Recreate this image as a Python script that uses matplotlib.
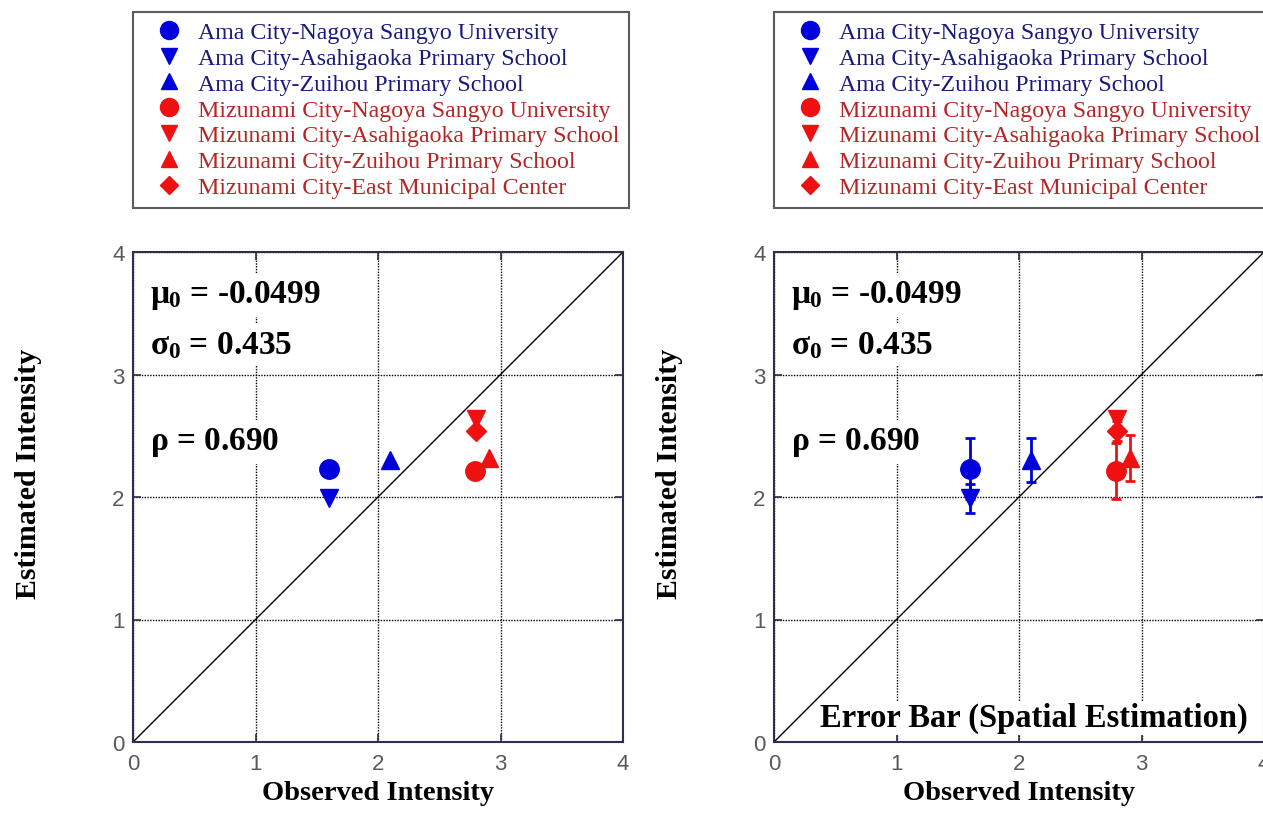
import numpy as np
import matplotlib
matplotlib.use("Agg")
import matplotlib.pyplot as plt
from matplotlib.lines import Line2D

plt.rcParams['mathtext.fontset'] = 'custom'
plt.rcParams['mathtext.rm'] = 'Liberation Serif:bold'
plt.rcParams['mathtext.it'] = 'Liberation Serif:bold'
plt.rcParams['mathtext.bf'] = 'Liberation Serif:bold'

# site names, observed / estimated intensity, error of spatial estimation
sites = ["Ama City-Nagoya Sangyo University",
         "Ama City-Asahigaoka Primary School",
         "Ama City-Zuihou Primary School",
         "Mizunami City-Nagoya Sangyo University",
         "Mizunami City-Asahigaoka Primary School",
         "Mizunami City-Zuihou Primary School",
         "Mizunami City-East Municipal Center"]
observed = [1.6, 1.6, 2.1, 2.79, 2.8, 2.91, 2.8]
estimated = [2.23, 1.99, 2.30, 2.21, 2.64, 2.32, 2.54]
est_error = [0.25, 0.12, 0.18, 0.23, 0.06, 0.19, 0.08]
markers = ['o', 'v', '^', 'o', 'v', '^', 'D']
sizes = [14, 13, 13, 14, 13, 13, 10]
city = ['Ama', 'Ama', 'Ama', 'Mizunami', 'Mizunami', 'Mizunami', 'Mizunami']

stats_text = [r"$\mu_0$ = -0.0499", r"$\sigma_0$ = 0.435", r"$\rho$ = 0.690"]
stats_y = [3.59, 3.17, 2.39]
ticks = [0, 1, 2, 3, 4]

mark_col = {'Ama': '#0000dd', 'Mizunami': '#ee1111'}
text_col = {'Ama': '#1a1a7a', 'Mizunami': '#b52525'}
spine_col = '#2e2e4e'

W, H = 1263, 829
fig = plt.figure(figsize=(W / 100, H / 100), dpi=100)


def draw_panel(left_px, with_errors):
    ax = fig.add_axes([left_px / W, 1 - 743 / H, 490 / W, 490 / H])
    ax.set_xlim(0, 4)
    ax.set_ylim(0, 4)
    ax.set_xticks(ticks)
    ax.set_yticks(ticks)
    ax.grid(True, color='black', linestyle=(0, (1, 1)), linewidth=1.0)
    ax.set_axisbelow(True)
    for s in ax.spines.values():
        s.set_color(spine_col)
        s.set_linewidth(1.5)
    ax.tick_params(direction='in', length=6, width=1.2, color=spine_col,
                   top=True, right=True, labelsize=16, labelcolor='#5a5a5a', pad=6)
    ax.tick_params(axis='x', pad=8)
    for lab in ax.get_xticklabels() + ax.get_yticklabels():
        lab.set_fontfamily('Liberation Sans')
    ax.plot([0, 4], [0, 4], color='black', linewidth=1.0, zorder=2)

    for i in range(len(sites)):
        c = mark_col[city[i]]
        if with_errors:
            ax.errorbar(observed[i], estimated[i], yerr=est_error[i], fmt=markers[i],
                        ms=sizes[i], color=c, ecolor=c, elinewidth=2, capsize=3.5,
                        capthick=2, zorder=4)
        else:
            ax.plot(observed[i], estimated[i], markers[i], ms=sizes[i], color=c, zorder=4)

    for t, y in zip(stats_text, stats_y):
        ax.text(0.14, y, t, fontsize=24, fontfamily='Liberation Serif',
                fontweight='bold', va='baseline', ha='left', zorder=3,
                bbox=dict(facecolor='white', edgecolor='none', pad=4))

    ax.set_xlabel("Observed Intensity", fontsize=20.5, fontfamily='Liberation Serif',
                  fontweight='bold')
    ax.set_ylabel("Estimated Intensity", fontsize=21.5, fontfamily='Liberation Serif',
                  fontweight='bold')
    ax.xaxis.set_label_coords(0.5, -0.077)
    ax.yaxis.set_label_coords(-0.185, 0.55)

    handles = [Line2D([], [], linestyle='none', marker=markers[i], ms=sizes[i] - 1,
                      color=mark_col[city[i]]) for i in range(len(sites))]
    leg = fig.legend(handles, sites, loc='upper left',
                     bbox_to_anchor=(left_px / W, 1 - 13 / H), borderaxespad=0,
                     prop={'family': 'Liberation Serif', 'size': 17.2},
                     labelspacing=0.17, handlelength=2.2, handletextpad=0.12,
                     borderpad=0.4, fancybox=False)
    leg.get_frame().set_edgecolor('#333333')
    leg.get_frame().set_linewidth(1.5)
    for txt, cty in zip(leg.get_texts(), city):
        txt.set_color(text_col[cty])
    return ax


ax1 = draw_panel(133, False)
ax2 = draw_panel(774, True)
ax2.text(0.375, 0.13, "Error Bar (Spatial Estimation)", fontsize=23.5,
         fontfamily='Liberation Serif', fontweight='bold', va='baseline', ha='left',
         zorder=3, bbox=dict(facecolor='white', edgecolor='none', pad=1))

fig.savefig("out.png", dpi=100)
